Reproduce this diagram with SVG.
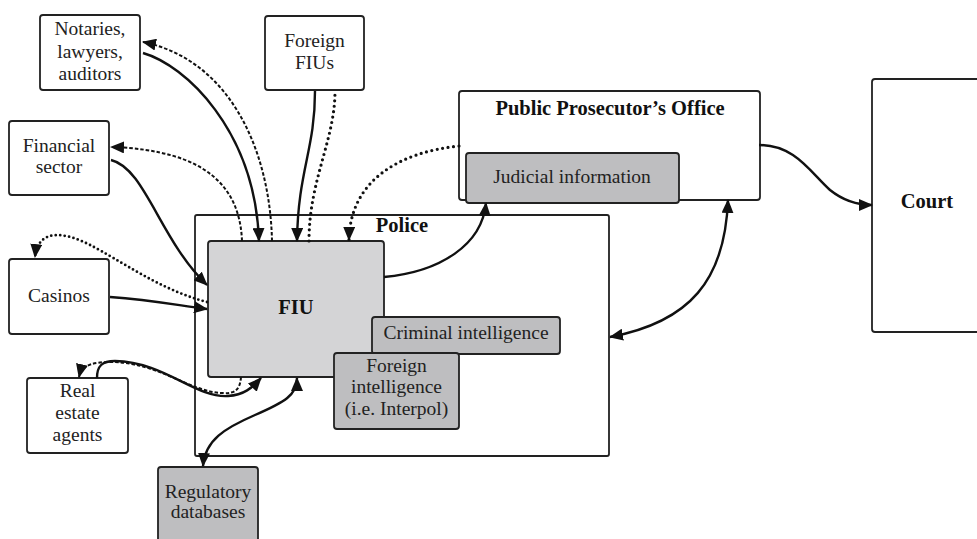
<svg xmlns="http://www.w3.org/2000/svg" width="977" height="539" viewBox="0 0 977 539">
<style>
.box{fill:#ffffff;stroke:#222;stroke-width:1.8}
.fiu{fill:#d4d4d6;stroke:#222;stroke-width:1.8}
.g{fill:#bebec0;stroke:#222;stroke-width:1.8}
text{font-family:'Liberation Serif','Times New Roman',serif;font-size:19.5px;fill:#222;text-anchor:middle}
.b{font-weight:bold;font-size:20.5px;fill:#111}
.c{fill:none;stroke:#111;stroke-width:2.4}
.dash{fill:none;stroke:#111;stroke-width:2;stroke-dasharray:3.5 2}
.dot{fill:none;stroke:#111;stroke-width:3.2;stroke-dasharray:0 5.5;stroke-linecap:round}
.dots{fill:none;stroke:#111;stroke-width:2.8;stroke-dasharray:0 4.5;stroke-linecap:round}
</style>
<defs>
<marker id="ah" markerUnits="userSpaceOnUse" markerWidth="14" markerHeight="12" refX="13" refY="6" orient="auto-start-reverse">
<path d="M0,0 L14,6 L0,12 z" fill="#111"/>
</marker>
</defs>
<rect width="977" height="539" fill="#ffffff"/>
<g id="police">
<rect class="box" x="195" y="215" width="414" height="241" rx="2"/>
<text class="b" x="402" y="232">Police</text>
</g>
<g id="fiu">
<rect class="fiu" x="208" y="241" width="176" height="136" rx="3"/>
<text class="b" x="296" y="314">FIU</text>
</g>
<g id="criminal-intelligence">
<rect class="g" x="372" y="317" width="188" height="37" rx="3"/>
<text x="466" y="339">Criminal intelligence</text>
</g>
<g id="foreign-intelligence">
<rect class="g" x="334" y="353" width="125" height="76" rx="3"/>
<text x="396.5" y="372">Foreign</text>
<text x="396.5" y="393">intelligence</text>
<text x="396.5" y="415">(i.e. Interpol)</text>
</g>
<g id="ppo">
<rect class="box" x="459" y="91" width="301" height="109" rx="3"/>
<text class="b" x="610" y="115">Public Prosecutor’s Office</text>
</g>
<g id="judicial-information">
<rect class="g" x="466" y="153" width="213" height="50" rx="3"/>
<text x="572" y="183">Judicial information</text>
</g>
<g id="court">
<rect class="box" x="872" y="79" width="120" height="253" rx="3"/>
<text class="b" x="927" y="208">Court</text>
</g>
<g id="notaries">
<rect class="box" x="40" y="15" width="100" height="75" rx="3"/>
<text x="90" y="35">Notaries,</text>
<text x="90" y="57.5">lawyers,</text>
<text x="90" y="80">auditors</text>
</g>
<g id="foreign-fius">
<rect class="box" x="265" y="16" width="99" height="74" rx="3"/>
<text x="314.5" y="47">Foreign</text>
<text x="314.5" y="69">FIUs</text>
</g>
<g id="financial-sector">
<rect class="box" x="9" y="121" width="100" height="74" rx="3"/>
<text x="59" y="152">Financial</text>
<text x="59" y="173">sector</text>
</g>
<g id="casinos">
<rect class="box" x="9" y="259" width="100" height="75" rx="3"/>
<text x="59" y="302">Casinos</text>
</g>
<g id="real-estate">
<rect class="box" x="27" y="378" width="101" height="75" rx="3"/>
<text x="77.5" y="397">Real</text>
<text x="77.5" y="419">estate</text>
<text x="77.5" y="441">agents</text>
</g>
<g id="regulatory-databases">
<rect class="g" x="158" y="467" width="100" height="80" rx="3"/>
<text x="208" y="498">Regulatory</text>
<text x="208" y="518">databases</text>
</g>
<g id="connectors">
<path class="c" d="M143,53 C185,65 255,130 259,241" marker-end="url(#ah)"/>
<path class="dash" d="M272,241 C270,150 230,60 143,42" marker-end="url(#ah)"/>
<path class="c" d="M315,91 C315,150 298,170 297,241" marker-end="url(#ah)"/>
<path class="dot" d="M309,241 C309,180 335,140 335,91"/>
<path class="c" d="M111,160 C145,168 160,240 207,285" marker-end="url(#ah)"/>
<path class="dash" d="M242,241 C240,190 210,150 111,147" marker-end="url(#ah)"/>
<path class="c" d="M110,297 C150,300 170,304 207,309" marker-end="url(#ah)"/>
<path class="dots" d="M207,302 C160,290 120,260 90,245 C65,232 38,228 35,257" marker-end="url(#ah)"/>
<path class="c" d="M97,378 C97,366 102,361 115,361 C165,362 195,398 228,396 C244,395 252,388 261,378" marker-end="url(#ah)"/>
<path class="dash" d="M241,377 C240,390 235,394 222,393 C190,392 160,363 112,362 C95,362 82,364 79,377" marker-end="url(#ah)"/>
<path class="c" d="M203,466 C205,440 225,428 255,415 C285,402 297,395 297,378" marker-start="url(#ah)" marker-end="url(#ah)"/>
<path class="dot" d="M459,146 C400,152 350,180 349,240" marker-end="url(#ah)"/>
<path class="c" d="M384,277 C440,272 482,245 486,203" marker-end="url(#ah)"/>
<path class="c" d="M728,200 C725,280 690,322 610,337" marker-start="url(#ah)" marker-end="url(#ah)"/>
<path class="c" d="M759,145 C795,145 810,172 830,190 C845,202 858,205 872,205" marker-end="url(#ah)"/>
</g>
</svg>
